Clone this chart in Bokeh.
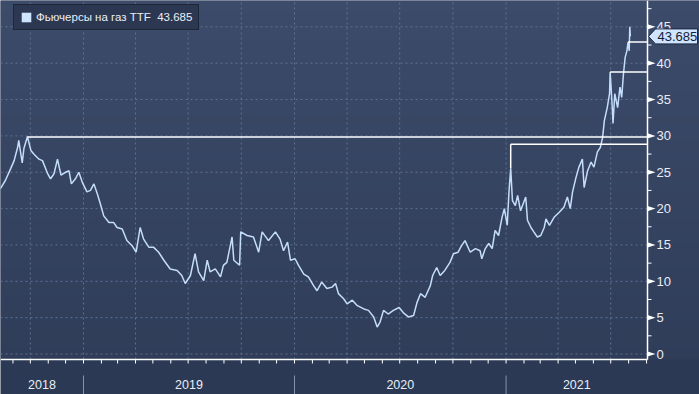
import numpy as np
import pandas as pd
from bokeh.plotting import figure
from bokeh.models import Legend, LegendItem
from bokeh.core.properties import value
from bokeh.embed import file_html
from bokeh.resources import INLINE

# ---- data ----
series_name = "Фьючерсы на газ TTF"
last_value = 43.685

dates = [
    "2018-08-10", "2018-08-19", "2018-08-28", "2018-09-03", "2018-09-09", "2018-09-11",
    "2018-09-17", "2018-09-20", "2018-09-26", "2018-10-02", "2018-10-07", "2018-10-16",
    "2018-10-22", "2018-10-31", "2018-11-05", "2018-11-11", "2018-11-17", "2018-11-23",
    "2018-12-01", "2018-12-07", "2018-12-11", "2018-12-18", "2018-12-24", "2018-12-30",
    "2019-01-07", "2019-01-13", "2019-01-19", "2019-01-25", "2019-01-30", "2019-02-05",
    "2019-02-14", "2019-02-22", "2019-02-28", "2019-03-09", "2019-03-17", "2019-03-26",
    "2019-04-02", "2019-04-09", "2019-04-15", "2019-04-24", "2019-05-02", "2019-05-11",
    "2019-05-20", "2019-05-31", "2019-06-12", "2019-06-20", "2019-06-26", "2019-07-05",
    "2019-07-13", "2019-07-19", "2019-07-28", "2019-08-03", "2019-08-08", "2019-08-17",
    "2019-08-26", "2019-08-31", "2019-09-06", "2019-09-15", "2019-09-18", "2019-09-28",
    "2019-09-30", "2019-10-11", "2019-10-22", "2019-10-31", "2019-11-06", "2019-11-17",
    "2019-11-29", "2019-12-07", "2019-12-13", "2019-12-20", "2019-12-25", "2020-01-02",
    "2020-01-08", "2020-01-17", "2020-01-25", "2020-02-03", "2020-02-09", "2020-02-17",
    "2020-02-26", "2020-03-06", "2020-03-12", "2020-03-17", "2020-03-26", "2020-04-01",
    "2020-04-10", "2020-04-18", "2020-04-30", "2020-05-08", "2020-05-17", "2020-05-23",
    "2020-05-28", "2020-06-03", "2020-06-11", "2020-06-20", "2020-06-30", "2020-07-07",
    "2020-07-16", "2020-07-25", "2020-07-31", "2020-08-06", "2020-08-14", "2020-08-23",
    "2020-08-27", "2020-09-03", "2020-09-09", "2020-09-17", "2020-09-26", "2020-10-02",
    "2020-10-10", "2020-10-16", "2020-10-22", "2020-10-31", "2020-11-09", "2020-11-17",
    "2020-11-20", "2020-11-26", "2020-12-02", "2020-12-08", "2020-12-13", "2020-12-19",
    "2020-12-25", "2020-12-29", "2021-01-03", "2021-01-06", "2021-01-09", "2021-01-12",
    "2021-01-17", "2021-01-21", "2021-01-26", "2021-02-04", "2021-02-07", "2021-02-13",
    "2021-02-18", "2021-02-24", "2021-03-02", "2021-03-08", "2021-03-11", "2021-03-17",
    "2021-03-25", "2021-04-03", "2021-04-11", "2021-04-17", "2021-04-22", "2021-04-26",
    "2021-05-02", "2021-05-07", "2021-05-13", "2021-05-16", "2021-05-22", "2021-05-28",
    "2021-06-02", "2021-06-08", "2021-06-13", "2021-06-17", "2021-06-20", "2021-06-25",
    "2021-06-29", "2021-06-30", "2021-07-03", "2021-07-05", "2021-07-08", "2021-07-13",
    "2021-07-17", "2021-07-20", "2021-07-23", "2021-07-26", "2021-07-29", "2021-07-31",
    "2021-08-02", "2021-08-03", "2021-08-04",
]
values = [
    22.7, 23.9, 25.5, 26.6, 28.4, 29.4,
    26.3, 28.3, 29.9, 28.0, 27.5, 26.8,
    26.6, 24.8, 24.1, 24.8, 26.8, 24.6,
    25.0, 25.2, 23.4, 24.1, 25.0, 23.6,
    22.3, 22.5, 23.4, 22.0, 20.7, 19.0,
    18.1, 18.1, 17.4, 17.2, 15.6, 14.9,
    14.0, 17.4, 15.8, 14.7, 14.7, 14.0,
    12.9, 11.7, 11.5, 10.8, 9.7, 10.8,
    13.8, 11.3, 10.1, 12.9, 11.3, 11.7,
    10.6, 12.2, 12.6, 16.1, 12.9, 12.2,
    16.8, 16.3, 16.1, 14.0, 16.8, 15.6,
    16.8, 15.8, 14.2, 15.4, 12.9, 13.1,
    12.2, 11.0, 10.6, 9.4, 8.7, 9.9,
    9.0, 9.2, 9.7, 8.3, 7.6, 6.9,
    7.4, 6.7, 6.2, 6.0, 5.1, 3.7,
    4.4, 6.0, 5.5, 6.0, 6.4, 5.7,
    5.1, 5.3, 7.1, 8.3, 7.8, 9.4,
    10.8, 11.9, 10.8, 11.5, 12.6, 13.8,
    14.0, 14.9, 15.6, 14.0, 14.5, 14.2,
    13.1, 14.5, 15.2, 14.5, 17.0, 16.3,
    18.8, 20.0, 17.7, 22.3, 25.5, 21.1,
    20.4, 21.8, 19.7, 21.6, 18.4, 17.4,
    16.8, 16.1, 16.3, 17.4, 18.6, 17.7,
    18.8, 19.5, 20.2, 21.6, 20.0, 22.3,
    24.3, 25.7, 26.8, 22.9, 25.2, 26.4,
    25.7, 27.8, 28.4, 29.8, 32.1, 33.9,
    35.8, 38.8, 34.9, 31.7, 35.8, 33.9,
    36.7, 35.3, 38.5, 40.8, 41.7, 42.9,
    41.7, 45.0, 43.685,
]

# marked highs: start date, level, value of the point the marker is drawn from
level_start = ["2018-09-26", "2021-01-09", "2021-06-30", "2021-07-31"]
level_value = [29.85, 28.85, 38.8, 42.9]
level_anchor = [29.9, 25.5, 38.8, 42.9]

year_names = ["2018", "2019", "2020", "2021"]
year_bounds = ["2018-01-01", "2019-01-01", "2020-01-01", "2021-01-01", "2022-01-01"]
y_ticks = [0, 5, 10, 15, 20, 25, 30, 35, 40, 45]

# ---- style ----
TOP_C = (0x3c, 0x4b, 0x6a)
BOT_C = (0x2f, 0x3d, 0x59)
BAND = "#2b3955"
LINE_C = "#c4ddfb"
GRID_C = "#5d7192"
TXT = "#e9eef6"
FONT = "Liberation Sans"
CALLOUT = "#cfe4fd"
W, H = 699, 394


# ---- canvas calibration (pixel -> data) ----
def xpx(px):
    return pd.Timestamp("2019-01-01") + pd.Timedelta(days=(px - 83) * 365 / 211)


def ypx(py):
    return (353.5 - py) / 7.27


def ms(t):
    return pd.Timestamp(t).value / 1e6


x_lo, x_hi = ms(xpx(0)), ms(xpx(W))
y_lo, y_hi = ypx(H), ypx(0)
plot_end = ms(xpx(647))
axis_y = ypx(359)

p = figure(width=W, height=H, x_range=(x_lo, x_hi), y_range=(y_lo, y_hi),
           x_axis_location=None, y_axis_location=None, min_border=0,
           output_backend="svg", toolbar_location=None, title=None,
           outline_line_color=None, background_fill_color=BAND, border_fill_color=BAND)
p.grid.visible = False

# background gradient over the plotting area
n = 359
t = np.linspace(0.0, 1.0, n)[:, None]
cols = np.array(BOT_C) + (np.array(TOP_C) - np.array(BOT_C)) * t
img = np.empty((n, 1), dtype=np.uint32)
view = img.view(dtype=np.uint8).reshape((n, 1, 4))
view[:, 0, 0:3] = np.round(cols).astype(np.uint8)
view[:, 0, 3] = 255
p.image_rgba(image=[img], x=x_lo, y=axis_y, dw=x_hi - x_lo, dh=y_hi - axis_y, level="image")

# dotted grid
quarters = [ms(d) for d in pd.date_range("2018-07-01", "2021-09-01", freq="QS")
            if x_lo < ms(d) < plot_end]
p.segment(x0=[x_lo] * len(y_ticks), x1=[plot_end] * len(y_ticks), y0=y_ticks, y1=y_ticks,
          line_color=GRID_C, line_dash="2 3", line_width=1)
p.segment(x0=quarters, x1=quarters, y0=[axis_y] * len(quarters), y1=[y_hi] * len(quarters),
          line_color=GRID_C, line_dash="2 3", line_width=1)

# data line
p.line(x=[ms(d) for d in dates], y=values, line_color=LINE_C, line_width=1.5)

# high-level markers
ls = [ms(d) for d in level_start]
p.segment(x0=ls, y0=level_value, x1=[plot_end] * len(ls), y1=level_value,
          line_color="white", line_width=1.5)
p.segment(x0=ls, y0=level_anchor, x1=ls, y1=level_value, line_color="white", line_width=1.5)

# bottom axis: line, monthly ticks, year separators, year names
months = [ms(d) for d in pd.date_range("2018-08-01", "2021-10-01", freq="MS")
          if x_lo < ms(d) < plot_end]
p.segment(x0=[x_lo], x1=[plot_end], y0=[axis_y], y1=[axis_y], line_color="white", line_width=1.5)
p.segment(x0=months, x1=months, y0=[axis_y] * len(months), y1=[ypx(363)] * len(months),
          line_color="white", line_width=1)
seps = [ms(d) for d in year_bounds if x_lo < ms(d) < x_hi]
p.segment(x0=seps, x1=seps, y0=[ypx(375)] * len(seps), y1=[y_lo] * len(seps),
          line_color="#8693a9", line_width=1)
mids = []
for i in range(len(year_names)):
    a = max(ms(year_bounds[i]), x_lo)
    b = min(ms(year_bounds[i + 1]), plot_end)
    mids.append((a + b) / 2)
p.text(x=mids, y=[ypx(384)] * len(mids), text=year_names, text_align="center",
       text_baseline="middle", text_color=TXT, text_font=value(FONT),
       text_font_size=value("12.5px"))

# right axis: line, minor ticks, triangle markers, labels
p.segment(x0=[plot_end], x1=[plot_end], y0=[axis_y], y1=[y_hi], line_color="white", line_width=1.5)
minors = [v + 2.5 for v in y_ticks if v + 2.5 < y_hi]
p.segment(x0=[plot_end] * len(minors), x1=[ms(xpx(651))] * len(minors), y0=minors, y1=minors,
          line_color="white", line_width=1)
hh = 2.6 / 7.27
p.patches(xs=[[plot_end, plot_end, ms(xpx(655))] for _ in y_ticks],
          ys=[[v + hh, v - hh, v] for v in y_ticks], fill_color="white", line_color=None)
p.text(x=[ms(xpx(656))] * len(y_ticks), y=y_ticks, text=[str(v) for v in y_ticks],
       text_align="left", text_baseline="middle", text_color=TXT, text_font=value(FONT),
       text_font_size=value("13px"))

# last-value callout
ch = 7.5 / 7.27
p.patch(x=[ms(xpx(648)), ms(xpx(655)), ms(xpx(697)), ms(xpx(697)), ms(xpx(655))],
        y=[last_value, last_value + ch, last_value + ch, last_value - ch, last_value - ch],
        fill_color=CALLOUT, line_color="#1b2840", line_width=1)
p.text(x=[ms(xpx(657))], y=[last_value], text=[f"{last_value}"], text_align="left",
       text_baseline="middle", text_color="#14213a", text_font=value(FONT),
       text_font_size=value("13px"))

# legend (square swatch from a zero-size quad at the last point)
leg_r = p.quad(left=[ms(dates[-1])], right=[ms(dates[-1])], top=[values[-1]],
               bottom=[values[-1]], fill_color=CALLOUT, line_color=None)
legend = Legend(items=[LegendItem(label=f"{series_name}  {last_value}", renderers=[leg_r])],
                location=(13, 364), margin=0, padding=6, spacing=0,
                glyph_width=12, glyph_height=12, label_standoff=4, label_height=12,
                background_fill_color="#2c3851", background_fill_alpha=1,
                border_line_color="#10151f", border_line_width=1,
                label_text_color=TXT, label_text_font=FONT, label_text_font_size="11.5px")
p.add_layout(legend)

open("out.html", "w").write(file_html(p, INLINE))
